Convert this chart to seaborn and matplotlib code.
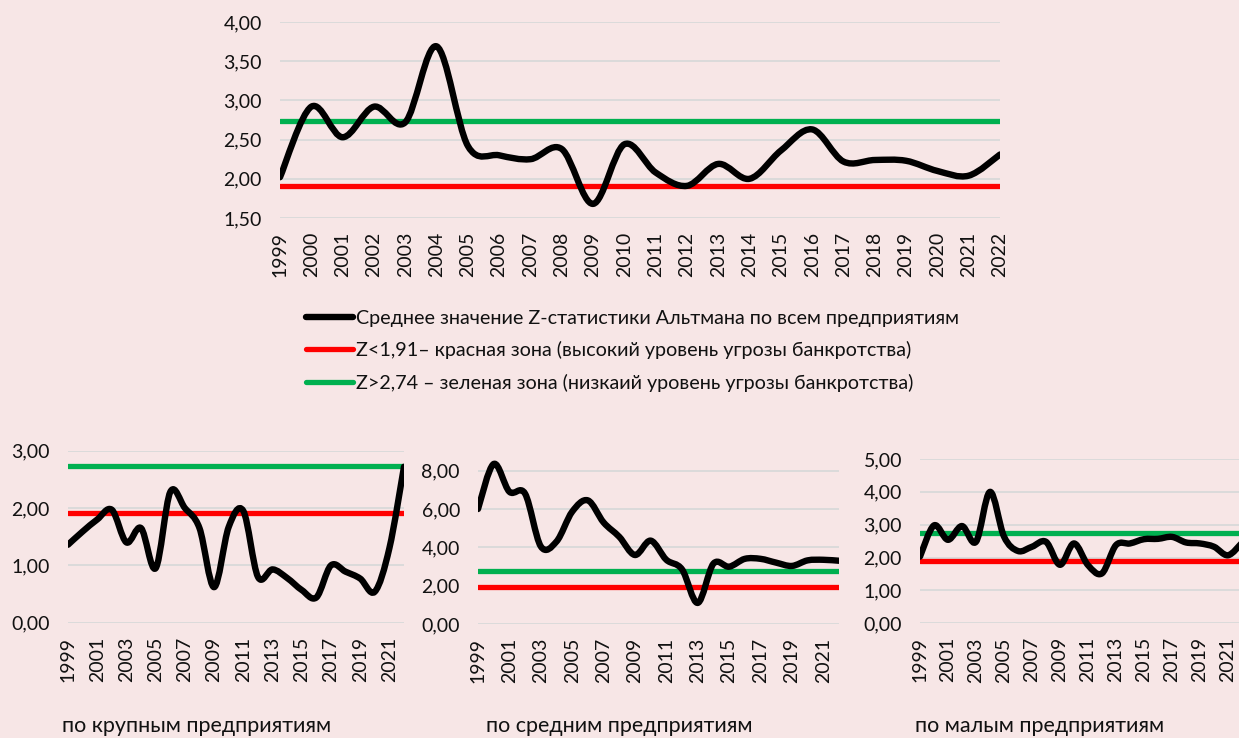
import numpy as np
import matplotlib
matplotlib.use("Agg")
import matplotlib.pyplot as plt
import seaborn as sns
from matplotlib.path import Path
from matplotlib.patches import PathPatch
from matplotlib.lines import Line2D
from matplotlib.ticker import FuncFormatter

# Values
years = list(range(1999, 2023))
z_all = [2.02, 2.92, 2.53, 2.92, 2.72, 3.69, 2.42, 2.30, 2.25, 2.38, 1.68, 2.44,
         2.08, 1.91, 2.19, 2.00, 2.36, 2.63, 2.22, 2.24, 2.23, 2.10, 2.04, 2.31]
z_large = [1.36, 1.59, 1.80, 1.97, 1.40, 1.65, 0.95, 2.28, 2.00, 1.65, 0.62, 1.67,
           1.95, 0.80, 0.93, 0.78, 0.57, 0.44, 1.00, 0.89, 0.77, 0.54, 1.30, 2.72]
z_medium = [6.00, 8.35, 6.90, 6.80, 4.05, 4.30, 5.86, 6.45, 5.30, 4.55, 3.60, 4.35,
            3.35, 2.85, 1.10, 3.15, 2.99, 3.40, 3.40, 3.20, 3.03, 3.32, 3.35, 3.30]
z_small = [2.03, 2.98, 2.54, 2.96, 2.48, 4.00, 2.64, 2.20, 2.33, 2.48, 1.78, 2.43,
           1.77, 1.52, 2.38, 2.43, 2.56, 2.57, 2.63, 2.46, 2.43, 2.33, 2.07, 2.45]
red_zone = 1.91
green_zone = 2.74

legend_labels = [
    "Среднее значение Z-статистики Альтмана по всем предприятиям",
    "Z<1,91– красная зона (высокий уровень угрозы банкротства)",
    "Z>2,74 – зеленая зона (низкаий уровень угрозы банкротства)",
]
subtitles = ["по крупным предприятиям", "по средним предприятиям", "по малым предприятиям"]

BG = "#F7E6E6"
RED = "#FF0000"
GREEN = "#00B050"
GRID = "#D9D9D9"

sns.set_theme(style="white")
plt.rcParams['font.family'] = ['Lato', 'DejaVu Sans']
plt.rcParams['text.color'] = '#111111'


def smooth_path(x, y):
    # Excel-like smoothed line: cubic Bezier segments through the points
    x = np.asarray(x, float)
    y = np.asarray(y, float)
    n = len(x)
    verts = [(x[0], y[0])]
    codes = [Path.MOVETO]
    for i in range(n - 1):
        i0 = max(i - 1, 0)
        i3 = min(i + 2, n - 1)
        c1 = (x[i] + (x[i + 1] - x[i0]) / 6, y[i] + (y[i + 1] - y[i0]) / 6)
        c2 = (x[i + 1] - (x[i3] - x[i]) / 6, y[i + 1] - (y[i3] - y[i]) / 6)
        verts += [c1, c2, (x[i + 1], y[i + 1])]
        codes += [Path.CURVE4] * 3
    return Path(verts, codes)


def comma(v, pos):
    return f"{v:.2f}".replace('.', ',')


def draw_panel(ax, values, ylim, yticks, xticks, lw_main, lw_ref, fs):
    ax.set_facecolor(BG)
    sns.lineplot(x=years, y=[green_zone] * len(years), ax=ax, color=GREEN,
                 lw=lw_ref, solid_capstyle='round')
    sns.lineplot(x=years, y=[red_zone] * len(years), ax=ax, color=RED,
                 lw=lw_ref, solid_capstyle='round')
    ax.add_patch(PathPatch(smooth_path(years, values), fill=False,
                           edgecolor='black', lw=lw_main,
                           capstyle='round', joinstyle='round', zorder=3))
    ax.set_xlim(years[0], years[-1])
    ax.set_ylim(*ylim)
    ax.set_yticks(yticks)
    ax.yaxis.set_major_formatter(FuncFormatter(comma))
    ax.set_xticks(xticks)
    ax.set_xticklabels([str(y) for y in xticks], rotation=90)
    ax.grid(axis='y', color=GRID, lw=1.3)
    ax.set_axisbelow(True)
    for s in ax.spines.values():
        s.set_visible(False)
    ax.tick_params(axis='y', length=0, pad=13, labelsize=fs, labelcolor='#111111')
    ax.tick_params(axis='x', length=0, pad=10, labelsize=fs, labelcolor='#111111')
    ax.set_xlabel('')
    ax.set_ylabel('')


W, H = 1239, 738
fig = plt.figure(figsize=(W / 100, H / 100), dpi=100)
fig.patch.set_facecolor(BG)


def add_axes(x0, x1, y_top, y_bot):
    return fig.add_axes([x0 / W, 1 - y_bot / H, (x1 - x0) / W, (y_bot - y_top) / H])


ax_top = add_axes(280, 1000, 22, 218)
draw_panel(ax_top, z_all, (1.5, 4.0), np.arange(1.5, 4.01, 0.5), years, 4.6, 3.8, 14)

ax_l = add_axes(68, 404, 450.7, 622.7)
draw_panel(ax_l, z_large, (0, 3), [0, 1, 2, 3], years[::2], 4.6, 3.8, 14)

ax_m = add_axes(478, 839, 451.5, 624)
draw_panel(ax_m, z_medium, (0, 9), [0, 2, 4, 6, 8], years[::2], 4.6, 3.8, 14)

ax_r = add_axes(920, 1242, 459, 623.3)
draw_panel(ax_r, z_small, (0, 5), [0, 1, 2, 3, 4, 5], years[::2], 4.6, 3.8, 14)

handles = [Line2D([], [], color='black', lw=4.6, solid_capstyle='round'),
           Line2D([], [], color=RED, lw=3.8, solid_capstyle='round'),
           Line2D([], [], color=GREEN, lw=3.8, solid_capstyle='round')]
fig.legend(handles, legend_labels, loc='upper left',
           bbox_to_anchor=(306 / W, 1 - 310 / H), frameon=False, fontsize=14.2,
           handlelength=2.4, handletextpad=0.15, labelspacing=0.72,
           borderaxespad=0, borderpad=0)

for cx, txt in zip([197, 619, 1040], subtitles):
    fig.text(cx / W, 1 - 726 / H, txt, ha='center', va='center', fontsize=15.5)

fig.savefig('out.png', dpi=100, facecolor=BG)
